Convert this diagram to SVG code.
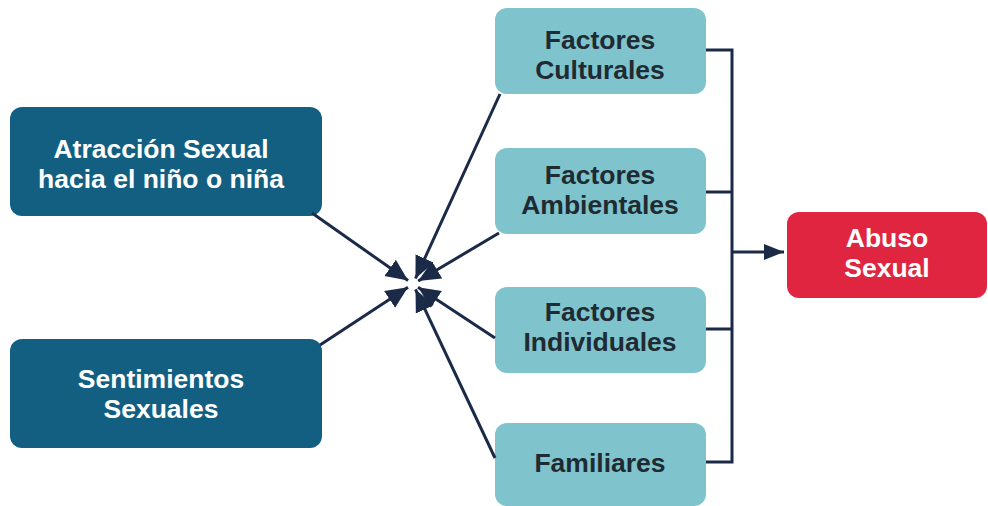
<svg xmlns="http://www.w3.org/2000/svg" width="988" height="506" viewBox="0 0 988 506">
<defs>
<marker id="ah" markerUnits="userSpaceOnUse" markerWidth="23" markerHeight="21" refX="22" refY="10" orient="auto" viewBox="0 0 23 21">
<path d="M0,0 L22,10 L0,20 z" fill="#1b2a47"/>
</marker>
<marker id="ah2" markerUnits="userSpaceOnUse" markerWidth="21" markerHeight="19" refX="20" refY="8" orient="auto" viewBox="0 0 21 19">
<path d="M0,0 L20,8 L0,16 z" fill="#1b2a47"/>
</marker>
<style>
.dark{fill:#135f82}
.teal{fill:#7fc3cc}
.red{fill:#e02540}
.t{font-family:"Liberation Sans",Arial,sans-serif;font-weight:bold;font-size:26.5px;text-anchor:middle}
.tw{fill:#ffffff}
.td{fill:#1f2b33}
.ln{stroke:#1b2a47;stroke-width:3;fill:none}
</style>
</defs>
<rect width="988" height="506" fill="#ffffff"/>
<g id="n-atraccion">
<rect class="dark" x="10" y="107" width="312" height="109" rx="12"/>
<text class="t tw" x="161" y="157.5">Atracción Sexual<tspan x="161" dy="30">hacia el niño o niña</tspan></text>
</g>
<g id="n-sentimientos">
<rect class="dark" x="10" y="339" width="312" height="109" rx="12"/>
<text class="t tw" x="161" y="388">Sentimientos<tspan x="161" dy="30">Sexuales</tspan></text>
</g>
<g id="n-culturales">
<rect class="teal" x="495" y="8" width="211" height="86" rx="12"/>
<text class="t td" x="600" y="48.5">Factores<tspan x="600" dy="30">Culturales</tspan></text>
</g>
<g id="n-ambientales">
<rect class="teal" x="495" y="148" width="211" height="86" rx="12"/>
<text class="t td" x="600" y="184">Factores<tspan x="600" dy="30">Ambientales</tspan></text>
</g>
<g id="n-individuales">
<rect class="teal" x="495" y="287" width="211" height="86" rx="12"/>
<text class="t td" x="600" y="320.5">Factores<tspan x="600" dy="30">Individuales</tspan></text>
</g>
<g id="n-familiares">
<rect class="teal" x="495" y="423" width="211" height="83" rx="12"/>
<text class="t td" x="600" y="472">Familiares</text>
</g>
<g id="n-abuso">
<rect class="red" x="787" y="212" width="200" height="86" rx="12"/>
<text class="t tw" x="887" y="247">Abuso<tspan x="887" dy="30">Sexual</tspan></text>
</g>
<g id="connectors">
<line class="ln" x1="312" y1="213" x2="408.1" y2="280.6" marker-end="url(#ah)"/>
<line class="ln" x1="320" y1="345" x2="408" y2="287.3" marker-end="url(#ah)"/>
<line class="ln" x1="500" y1="94" x2="415.5" y2="278.5" marker-end="url(#ah)"/>
<line class="ln" x1="499" y1="233" x2="418.2" y2="281" marker-end="url(#ah)"/>
<line class="ln" x1="495" y1="338" x2="418" y2="287.3" marker-end="url(#ah)"/>
<line class="ln" x1="495" y1="458" x2="415.5" y2="289.4" marker-end="url(#ah)"/>
<path class="ln" d="M706,50 H732 V462 H706 M706,192 H732 M706,329 H732"/>
<line class="ln" x1="732" y1="252" x2="784" y2="252" marker-end="url(#ah2)"/>
</g>
</svg>
